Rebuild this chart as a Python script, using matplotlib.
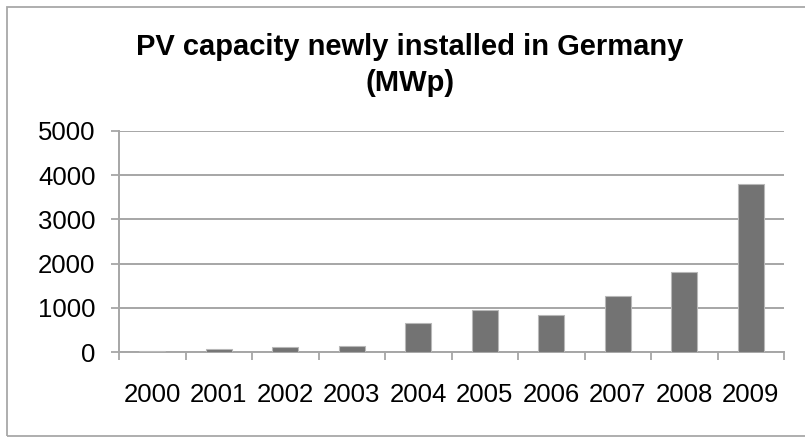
import numpy as np
import matplotlib.pyplot as plt
from matplotlib.patches import Rectangle

years = ['2000', '2001', '2002', '2003', '2004', '2005', '2006', '2007', '2008', '2009']
capacity_mwp = [30, 60, 110, 130, 660, 940, 830, 1270, 1800, 3810]
y_ticks = [0, 1000, 2000, 3000, 4000, 5000]

plt.rcParams['font.family'] = ['Liberation Sans', 'DejaVu Sans']

W, H = 805, 437
fig = plt.figure(figsize=(W / 100, H / 100), dpi=100)
fig.patch.set_facecolor('white')

# outer chart frame (right side runs off the picture)
fig.patches.append(Rectangle((7 / W, 1.5 / H), 810 / W, 429 / H, transform=fig.transFigure,
                             fill=False, edgecolor='#a8a8a8', linewidth=1.3))

ax = fig.add_axes([119 / W, 1 - 352 / H, 665 / W, 221 / H])
x = np.arange(len(years))
ax.bar(x, capacity_mwp, width=0.39, color='#737373', edgecolor='#b8b8b8', linewidth=0.8, zorder=3)

ax.set_xlim(-0.5, len(years) - 0.5)
ax.set_ylim(0, 5000)
ax.set_yticks(y_ticks)
ax.set_yticklabels([str(v) for v in y_ticks])
ax.yaxis.grid(True, color='#a6a6a6', linewidth=1.4, zorder=0)
ax.set_axisbelow(True)

# x ticks sit on category borders, labels at centres
ax.set_xticks(np.arange(len(years) + 1) - 0.5)
ax.set_xticklabels([])
ax.set_xticks(x, minor=True)
ax.set_xticklabels(years, minor=True)
ax.tick_params(axis='x', which='minor', length=0, pad=22, labelsize=18.5)
ax.tick_params(axis='x', which='major', length=6, width=1.3, color='#a6a6a6', direction='out')
ax.tick_params(axis='y', length=6, width=1.3, color='#a6a6a6', pad=11, labelsize=18.5)

for side in ['top', 'right']:
    ax.spines[side].set_visible(False)
for side in ['left', 'bottom']:
    ax.spines[side].set_color('#a6a6a6')
    ax.spines[side].set_linewidth(1.4)

fig.text(0.509, 1 - 33 / H, 'PV capacity newly installed in Germany\n(MWp)',
         ha='center', va='top', fontsize=21, fontweight='bold', linespacing=1.35)

fig.savefig('out.png', dpi=100)
